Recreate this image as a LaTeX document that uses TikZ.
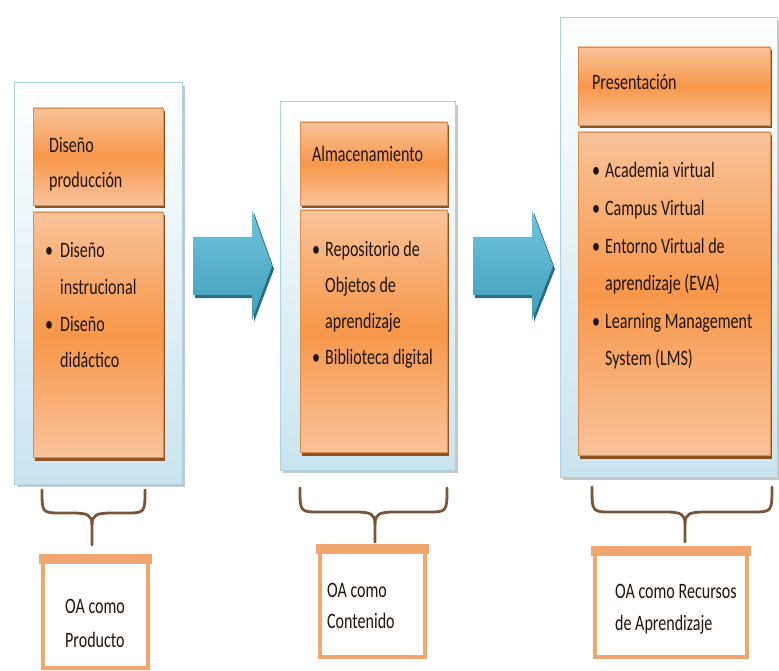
\documentclass[tikz,border=0pt]{standalone}
\usepackage{fontspec}
\setmainfont{Carlito}
\usetikzlibrary{shadows,calc}
\definecolor{frameborder}{HTML}{A9D3E2}
\definecolor{framebot}{HTML}{C9E4EF}
\definecolor{orTop}{HTML}{F9C39A}
\definecolor{orMid}{HTML}{F7974A}
\definecolor{orBot}{HTML}{FAC29A}
\definecolor{orLine}{HTML}{E08A4A}
\definecolor{orEdge}{HTML}{8C5424}
\definecolor{arrTop}{HTML}{72C5DC}
\definecolor{arrBot}{HTML}{3E9EBC}
\definecolor{arrDark}{HTML}{2C6A80}
\definecolor{braceCol}{HTML}{7A5538}
\definecolor{lblBorder}{HTML}{F0A66E}
\definecolor{txtCol}{HTML}{20140C}
\begin{document}
\begin{tikzpicture}[x=1pt,y=-1pt,
  frame/.style={rectangle, draw=frameborder, line width=1pt, top color=white, bottom color=framebot,
    drop shadow={shadow xshift=3pt, shadow yshift=-3pt, fill=black!22, opacity=1}, inner sep=0},
  hdr/.style={rectangle, draw=orLine, line width=0.4pt, top color=orTop, bottom color=orBot, middle color=orMid,
    drop shadow={shadow xshift=1.5pt, shadow yshift=-3.5pt, fill=orEdge, opacity=1}, inner sep=0},
  lbl/.style={rectangle, draw=lblBorder, line width=4pt, fill=white, inner sep=0},
  txt/.style={anchor=base west, inner sep=0, font=\fontsize{22}{26}\selectfont, xscale=0.73, text=txtCol},
  bracestyle/.style={draw=braceCol, line width=2.8pt, line cap=round, line join=round},
]
\useasboundingbox (0,0) rectangle (779,671);

% frames
\node[frame, minimum width=168pt, minimum height=401pt] (f1) at (98,283.5) {};
\node[frame, minimum width=175pt, minimum height=368pt] (f2) at (367.5,286) {};
\node[frame, minimum width=217pt, minimum height=459pt] (f3) at (668.5,247.5) {};

% headers and bodies
\node[hdr, minimum width=130pt, minimum height=97pt] (h1) at (98,156.5) {};
\node[hdr, minimum width=130pt, minimum height=245pt] (b1) at (98,334.5) {};
\node[hdr, minimum width=147pt, minimum height=83pt] (h2) at (373.5,163.5) {};
\node[hdr, minimum width=147pt, minimum height=242pt] (b2) at (373.5,331) {};
\node[hdr, minimum width=192pt, minimum height=78pt] (h3) at (674,86) {};
\node[hdr, minimum width=192pt, minimum height=323pt] (b3) at (674,293.5) {};

% arrows
\fill[arrDark] (195,240) -- (254,240) -- (254,213) -- (274,269) -- (254,322) -- (254,298) -- (195,298) -- cycle;
\shade[top color=arrTop, bottom color=arrBot] (193,237) -- (252,237) -- (252,210) -- (272,266) -- (252,320) -- (252,295) -- (193,295) -- cycle;
\fill[arrDark] (475,240) -- (534,240) -- (534,213) -- (555,269) -- (534,322) -- (534,298) -- (475,298) -- cycle;
\shade[top color=arrTop, bottom color=arrBot] (473,237) -- (532,237) -- (532,210) -- (553,266) -- (532,320) -- (532,295) -- (473,295) -- cycle;

% panel 1 texts
\node[txt] (t1a) at (49,153) {Diseño};
\node[txt] (t1b) at (49,188) {producción};
\node[txt] (p1a) at (45,258) {•};
\node[txt] (t1c) at (60,258) {Diseño};
\node[txt] (t1d) at (60,294) {instrucional};
\node[txt] (p1b) at (45,331) {•};
\node[txt] (t1e) at (60,331) {Diseño};
\node[txt] (t1f) at (60,367) {didáctico};

% panel 2 texts
\node[txt] (t2a) at (312,162) {Almacenamiento};
\node[txt] (p2a) at (312,256) {•};
\node[txt] (t2b) at (325,256) {Repositorio de};
\node[txt] (t2c) at (325,292) {Objetos de};
\node[txt] (t2d) at (325,328) {aprendizaje};
\node[txt] (p2b) at (312,364) {•};
\node[txt] (t2e) at (325,364) {Biblioteca digital};

% panel 3 texts
\node[txt] (t3a) at (592,90) {Presentación};
\node[txt] (p3a) at (592,178) {•};
\node[txt] (t3b) at (605,178) {Academia virtual};
\node[txt] (p3b) at (592,215.5) {•};
\node[txt] (t3c) at (605,215.5) {Campus Virtual};
\node[txt] (p3c) at (592,253) {•};
\node[txt] (t3d) at (605,253) {Entorno Virtual de};
\node[txt] (t3e) at (605,290.5) {aprendizaje (EVA)};
\node[txt] (p3d) at (592,328) {•};
\node[txt] (t3f) at (605,328) {Learning Management};
\node[txt] (t3g) at (605,365.5) {System (LMS)};

% label boxes
\node[lbl, minimum width=105pt, minimum height=110pt] (l1) at (95.5,613) {};
\node[lbl, minimum width=105pt, minimum height=109pt] (l2) at (372.5,602.5) {};
\node[lbl, minimum width=152pt, minimum height=107pt] (l3) at (671,603.5) {};
\foreach \n in {l1,l2,l3}{
  \fill[lblBorder] ($(\n.north west)+(-2,-2)$) rectangle ($(\n.north east)+(2,8)$);
}
\node[txt] (u1a) at (65,613) {OA como};
\node[txt] (u1b) at (65,647) {Producto};
\node[txt] (u2a) at (327,597) {OA como};
\node[txt] (u2b) at (327,628) {Contenido};
\node[txt] (u3a) at (615,598) {OA como Recursos};
\node[txt] (u3b) at (615,630) {de Aprendizaje};

% braces
\coordinate (c1L) at (42,490); \coordinate (c1R) at (145,490); \coordinate (c1T) at (92,545);
\coordinate (c2L) at (300,488); \coordinate (c2R) at (447,488); \coordinate (c2T) at (375,542);
\coordinate (c3L) at (592,487); \coordinate (c3R) at (772,487); \coordinate (c3T) at (685,542);
\foreach \i/\yone in {1/513,2/512,3/512}{
  \path (c\i L) coordinate (A) (c\i R) coordinate (B) (c\i T) coordinate (C);
  \draw[bracestyle] (A) .. controls (A|-0,\yone) and (A|-0,\yone) .. ($(A|-0,\yone)+(20,0)$)
     -- ($(C|-0,\yone)+(-20,0)$) .. controls ($(C|-0,\yone)+(-4,0)$) and ($(C|-0,\yone)+(0,2)$) .. ($(C|-0,\yone)+(0,12)$) -- (C);
  \draw[bracestyle] (B) .. controls (B|-0,\yone) and (B|-0,\yone) .. ($(B|-0,\yone)+(-20,0)$)
     -- ($(C|-0,\yone)+(20,0)$) .. controls ($(C|-0,\yone)+(4,0)$) and ($(C|-0,\yone)+(0,2)$) .. ($(C|-0,\yone)+(0,12)$);
}
\end{tikzpicture}
\end{document}
